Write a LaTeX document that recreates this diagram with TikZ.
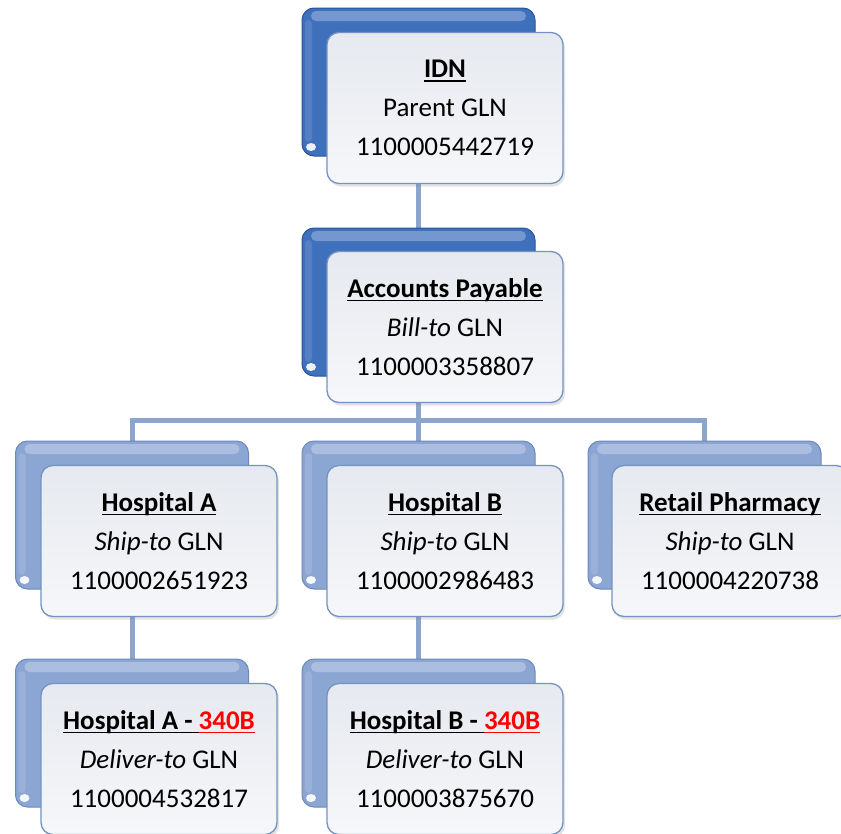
\documentclass[tikz,border=0pt]{standalone}
\usepackage{fontspec}
\setmainfont{Carlito}
\usetikzlibrary{backgrounds,shadows}
\definecolor{linec}{RGB}{140,165,205}
\definecolor{darkF}{RGB}{62,112,188}
\definecolor{darkD}{RGB}{40,85,155}
\definecolor{lightF}{RGB}{140,166,212}
\definecolor{lightD}{RGB}{108,136,186}
\definecolor{frontT}{RGB}{230,233,239}
\definecolor{frontB}{RGB}{246,247,249}
\definecolor{frontD}{RGB}{115,148,195}
\definecolor{redt}{RGB}{255,0,0}
\newcommand\myul[2][black]{\leavevmode\setbox0\hbox{#2}\rlap{\color{#1}\rule[-4pt]{\wd0}{1.8pt}}\box0}
\begin{document}
\begin{tikzpicture}[x=1pt,y=-1pt,
  backbox/.style={rounded corners=12pt, minimum width=233pt, minimum height=148pt, inner sep=0pt, line width=1pt,
    path picture={
      \fill[white,opacity=0.28,rounded corners=5pt]
        ([xshift=9pt,yshift=-3pt]path picture bounding box.north west) rectangle
        ([xshift=-9pt,yshift=-13pt]path picture bounding box.north east);
      \shade[left color=white,right color=white,middle color=white, opacity=0.0]
        ([xshift=2pt,yshift=-10pt]path picture bounding box.north west) rectangle
        ([xshift=12pt,yshift=12pt]path picture bounding box.south west);
      \fill[white,opacity=0.12,rounded corners=4pt]
        ([xshift=3pt,yshift=-12pt]path picture bounding box.north west) rectangle
        ([xshift=10pt,yshift=14pt]path picture bounding box.south west);
      \fill[white,opacity=0.9]
        ([xshift=9pt,yshift=9pt]path picture bounding box.south west) ellipse[x radius=5pt, y radius=4pt];
    }},
  backdark/.style={backbox, draw=darkD, fill=darkF},
  backlight/.style={backbox, draw=lightD, fill=lightF},
  frontbox/.style={rounded corners=12pt, minimum width=236pt, minimum height=151pt, inner sep=0pt,
    draw=frontD, line width=1.3pt, top color=frontT, bottom color=frontB,
    drop shadow={opacity=0.22, shadow xshift=2pt, shadow yshift=-3pt},
    font=\fontsize{27}{39}\selectfont, align=center},
  conn/.style={draw=linec, line width=5pt}]
\useasboundingbox (0,0) rectangle (841,833);

% row 1
\node[backdark] (idnB) at (418.5,82) {};
\node[frontbox] (idn) at (445,108) {\bfseries\myul{IDN}\\Parent GLN\\1100005442719};
% row 2
\node[backdark] (apB) at (418.5,302) {};
\node[frontbox] (ap) at (445,327) {\bfseries\myul{Accounts Payable}\\\textit{Bill-to} GLN\\1100003358807};
% row 3
\node[backlight] (haB) at (132,515) {};
\node[frontbox] (ha) at (159,541) {\bfseries\myul{Hospital A}\\\textit{Ship-to} GLN\\1100002651923};
\node[backlight] (hbB) at (418.5,515) {};
\node[frontbox] (hb) at (445,541) {\bfseries\myul{Hospital B}\\\textit{Ship-to} GLN\\1100002986483};
\node[backlight] (rpB) at (704.5,515) {};
\node[frontbox] (rp) at (730,541) {\bfseries\myul{Retail Pharmacy}\\\textit{Ship-to} GLN\\1100004220738};
% row 4
\node[backlight] (haxB) at (132,733) {};
\node[frontbox] (hax) at (159,759) {\bfseries\myul{Hospital A - }\myul[redt]{\textcolor{redt}{340B}}\\\textit{Deliver-to} GLN\\1100004532817};
\node[backlight] (hbxB) at (418.5,733) {};
\node[frontbox] (hbx) at (445,759) {\bfseries\myul{Hospital B - }\myul[redt]{\textcolor{redt}{340B}}\\\textit{Deliver-to} GLN\\1100003875670};

\begin{pgfonlayer}{background}
\coordinate (bar) at (418.5,420);
\draw[conn] (idnB.south) -- (apB.north);
\draw[conn] (apB.south) -- (bar);
\draw[conn] (bar) -| (haB.north);
\draw[conn] (bar) -| (rpB.north);
\draw[conn] (bar) -- (hbB.north);
\draw[conn] (haB.south) -- (haxB.north);
\draw[conn] (hbB.south) -- (hbxB.north);
\end{pgfonlayer}
\end{tikzpicture}
\end{document}
